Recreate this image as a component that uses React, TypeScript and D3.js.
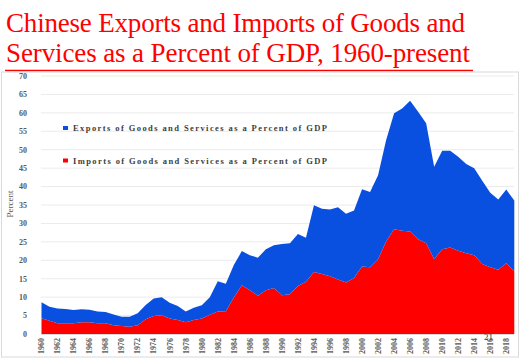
import React from "react";
import * as d3 from "d3";

const years: number[] = d3.range(1960, 2020);
const importsPct: number[] = [
  4.3, 3.6, 2.9, 2.9, 2.9, 3.2, 3.2, 2.9, 2.9, 2.4,
  2.2, 2.0, 2.4, 4.0, 4.9, 5.1, 4.2, 3.8, 3.2, 3.8,
  4.2, 5.2, 6.1, 6.2, 9.9, 13.2, 11.9, 10.4, 11.9, 12.5,
  10.5, 10.8, 13.0, 14.2, 16.8, 16.3, 15.7, 14.8, 14.0, 15.2,
  18.3, 18.1, 20.3, 25.1, 28.4, 28.0, 27.8, 25.7, 24.6, 20.3,
  23.0, 23.5, 22.6, 21.9, 21.4, 19.0, 18.1, 17.4, 19.2, 17.1,
];
const exportsPct: number[] = [
  4.3, 3.8, 4.0, 3.9, 3.6, 3.5, 3.4, 3.2, 3.1, 2.9,
  2.5, 2.7, 3.2, 3.9, 4.7, 4.85, 4.3, 3.8, 2.9, 3.3,
  3.6, 4.8, 8.2, 7.4, 8.8, 9.3, 9.5, 10.3, 11.1, 11.6,
  13.9, 13.8, 14.1, 11.9, 18.1, 17.7, 18.1, 19.6, 18.6, 18.3,
  21.0, 20.4, 22.8, 27.5, 31.5, 33.2, 35.5, 34.6, 32.6, 25.1,
  26.7, 26.2, 25.5, 24.2, 23.6, 22.6, 20.2, 19.1, 20.0, 19.1,
];
const yTicks: number[] = d3.range(0, 75, 5);
const xTickYears: number[] = d3.range(1960, 2020, 2);
const titleLines: string[] = [
  "Chinese Exports and Imports of Goods and",
  "Services as a Percent of GDP, 1960-present",
];
const legendItems = [
  { key: "exports", label: "Exports of Goods and Services as a Percent of GDP", color: "#0A50E0" },
  { key: "imports", label: "Imports of Goods and Services as a Percent of GDP", color: "#FF0000" },
];

export default function App() {
  const W = 521, H = 360;
  const x = d3.scaleLinear().domain([1960, 2019]).range([41.5, 514.3]);
  const y = d3.scaleLinear().domain([0, 70]).range([334, 76]);

  const rows = years.map((yr, i) => ({ year: yr, imports: importsPct[i], exports: exportsPct[i] }));
  const stack = d3.stack<any>().keys(["imports", "exports"]);
  const series = stack(rows);
  const area = d3
    .area<any>()
    .x((d) => x(d.data.year))
    .y0((d) => y(d[0]))
    .y1((d) => y(d[1]));
  const colorOf: Record<string, string> = { imports: "#FF0000", exports: "#0A50E0" };

  const serif = "Liberation Serif";
  const titleLens = [459, 464];

  return (
    <svg width={W} height={H} style={{ position: "absolute", left: 0, top: 0, background: "#fff" }}>
      {titleLines.map((t, i) => (
        <text
          key={i}
          x={6}
          y={32 + i * 30}
          fontFamily={serif}
          fontSize={27}
          fill="#FF0000"
          textLength={titleLens[i]}
          lengthAdjust="spacing"
        >
          {t}
        </text>
      ))}
      <line x1={5} x2={473} y1={70.5} y2={70.5} stroke="#FF0000" strokeWidth={1.5} />
      <rect x={1.5} y={72} width={517} height={285} fill="none" stroke="#D9D9D9" strokeWidth={1} />

      {yTicks.map((t) => (
        <g key={t}>
          {t > 0 && (
            <line x1={41} x2={514} y1={y(t)} y2={y(t)} stroke="#EBEBEB" strokeWidth={1} />
          )}
          <text
            x={27}
            y={y(t) + 2.8}
            textAnchor="end"
            fontFamily={serif}
            fontSize={8}
            fontWeight="bold"
            fill="#595959"
          >
            {t}
          </text>
        </g>
      ))}

      {series.map((s) => (
        <path key={s.key} d={area(s) || ""} fill={colorOf[s.key]} />
      ))}
      <line x1={41} x2={514.3} y1={334.5} y2={334.5} stroke="#D9D9D9" strokeWidth={1} />

      {xTickYears.map((yr) => (
        <text
          key={yr}
          transform={`translate(${x(yr) + 2.8},${338}) rotate(-90)`}
          textAnchor="end"
          fontFamily={serif}
          fontSize={8}
          fontWeight="bold"
          fill="#595959"
        >
          {yr}
        </text>
      ))}

      <text
        transform="translate(13,204) rotate(-90)"
        textAnchor="middle"
        fontFamily={serif}
        fontSize={9}
        fill="#595959"
      >
        Percent
      </text>

      {legendItems.map((it, i) => (
        <g key={it.key}>
          <rect x={63} y={126 + i * 32.5} width={5} height={4} fill={it.color} />
          <text
            x={73}
            y={131 + i * 32.5}
            fontFamily={serif}
            fontSize={8.5}
            fontWeight="bold"
            fill="#404040"
            textLength={254}
            lengthAdjust="spacing"
          >
            {it.label}
          </text>
        </g>
      ))}

      <text x={484} y={340} fontFamily={serif} fontSize={9} fill="#333">
        21
      </text>
    </svg>
  );
}
